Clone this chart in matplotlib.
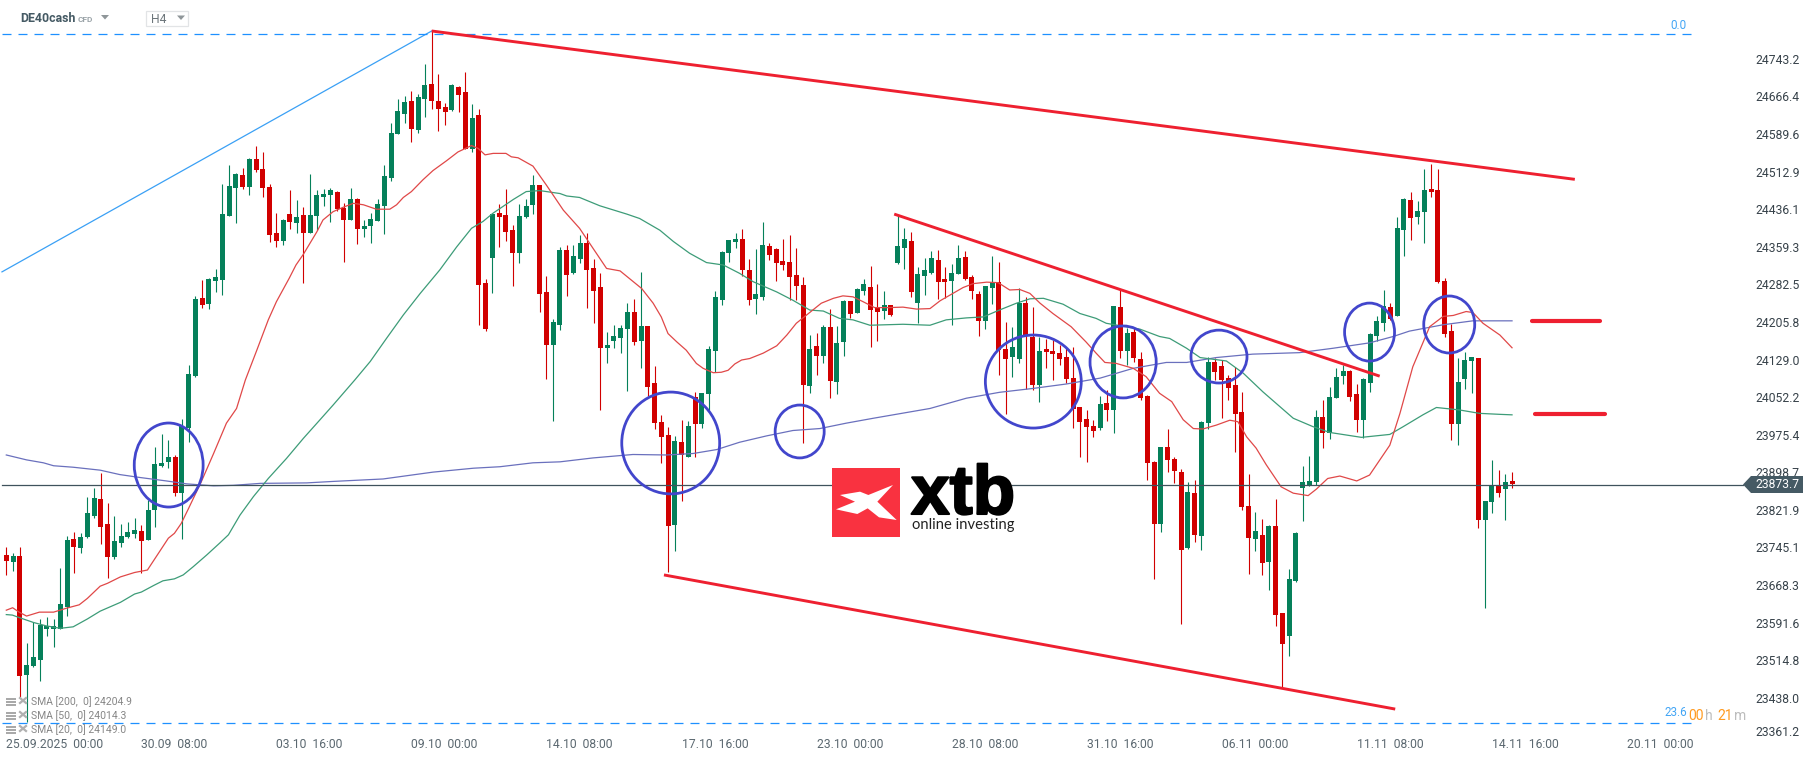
# DE40cash H4 chart
import numpy as np
import matplotlib
matplotlib.use("Agg")
import matplotlib.pyplot as plt
import matplotlib.patheffects as pe
from matplotlib.patches import Ellipse, Polygon, Rectangle
from matplotlib.transforms import Affine2D, ScaledTranslation

W, H = 1815, 761

opens = [23730,23715,23728,23485,23503,23515,23579,23579,23579,23624,
 23762,23744,23767,23809,23844,23793,23726,23754,23767,23773,
 23779,23760,23822,23911,23920,23930,23856,23990,24095,24255,
 24242,24289,24291,24422,24479,24506,24481,24539,24518,24481,
 24387,24371,24426,24408,24424,24387,24422,24461,24465,24471,
 24439,24414,24457,24396,24402,24412,24443,24500,24590,24631,
 24657,24598,24661,24692,24657,24645,24639,24686,24675,24559,
 24628,24285,24336,24428,24424,24393,24346,24420,24445,24485,
 24267,24159,24199,24353,24306,24334,24367,24316,24277,24152,
 24167,24173,24191,24226,24167,24197,24081,24001,23975,23791,
 23960,23930,24052,23997,24058,24146,24250,24346,24369,24375,
 24312,24252,24257,24361,24355,24330,24328,24302,24281,24075,
 24157,24136,24195,24083,24165,24248,24224,24269,24277,24234,
 24228,24240,24326,24357,24371,24244,24299,24306,24332,24293,
 24289,24304,24338,24297,24263,24208,24275,24287,24150,24134,
 24130,24244,24175,24077,24151,24146,24142,24134,24091,24032,
 24008,23993,23989,24040,24026,24236,24146,24185,24130,24055,
 23920,23793,23950,23926,23899,23744,23856,23768,23999,24124,
 24116,24091,24077,24022,23830,23762,23771,23715,23789,23611,
 23564,23677,23867,23873,23879,24012,23979,24050,24095,24106,
 24059,24006,24081,24177,24204,24236,24218,24394,24455,24420,
 24430,24477,24475,24289,24187,23997,24089,24126,24132,23801,
 23838,23873,23864,23881]
closes = [23718,23728,23483,23505,23521,23587,23585,23585,23630,23760,
 23746,23767,23816,23846,23787,23726,23758,23769,23777,23781,
 23758,23822,23916,23918,23930,23856,23993,24099,24253,24240,
 24293,24298,24426,24483,24508,24481,24539,24516,24479,24383,
 24371,24414,24410,24420,24387,24424,24465,24467,24475,24436,
 24414,24457,24396,24402,24416,24447,24504,24592,24637,24655,
 24600,24665,24690,24657,24641,24635,24690,24669,24559,24622,
 24281,24191,24426,24420,24389,24346,24422,24442,24485,24263,
 24159,24206,24353,24302,24340,24367,24312,24269,24152,24159,
 24177,24193,24226,24165,24197,24073,23999,23971,23789,23962,
 23934,23993,23997,24061,24150,24257,24349,24373,24375,24312,
 24250,24263,24363,24342,24326,24322,24297,24279,24077,24150,
 24136,24195,24085,24163,24248,24222,24273,24283,24230,24226,
 24240,24220,24361,24375,24267,24304,24312,24336,24287,24287,
 24306,24336,24293,24269,24208,24279,24287,24148,24130,24154,
 24244,24177,24077,24146,24144,24140,24130,24089,24028,24001,
 23991,23983,24038,24026,24238,24146,24183,24132,24050,23918,
 23793,23950,23924,23901,23740,23858,23771,24001,24124,24104,
 24087,24071,24018,23828,23764,23779,23713,23789,23607,23548,
 23681,23775,23879,23881,24012,23979,24052,24093,24106,24052,
 24006,24089,24181,24208,24238,24212,24398,24457,24418,24432,
 24475,24471,24287,24181,23997,24083,24128,24134,23801,23840,
 23873,23856,23879,23875]
highs = [23746,23734,23746,23549,23593,23599,23603,23599,23703,23769,
 23777,23775,23848,23867,23897,23835,23809,23793,23797,23805,
 23791,23842,23950,23977,23965,23934,24008,24118,24259,24291,
 24296,24314,24488,24526,24510,24520,24541,24565,24553,24488,
 24428,24415,24475,24455,24441,24508,24475,24477,24479,24473,
 24449,24479,24458,24414,24428,24457,24526,24612,24661,24667,
 24677,24671,24733,24799,24712,24653,24692,24688,24716,24651,
 24641,24293,24427,24447,24477,24404,24447,24457,24506,24486,
 24299,24212,24359,24363,24363,24383,24387,24334,24306,24185,
 24199,24199,24244,24253,24308,24198,24116,24016,23991,23973,
 24005,24003,24063,24061,24157,24269,24351,24373,24387,24395,
 24334,24355,24410,24367,24356,24375,24383,24357,24297,24179,
 24183,24199,24232,24197,24250,24249,24275,24293,24320,24283,
 24269,24241,24424,24397,24389,24318,24336,24351,24353,24318,
 24324,24363,24351,24302,24269,24280,24340,24328,24205,24195,
 24275,24256,24236,24175,24171,24169,24159,24155,24155,24033,
 24026,24006,24055,24067,24239,24271,24193,24193,24144,24056,
 23921,23951,23988,23930,23905,23879,23883,24003,24134,24132,
 24128,24097,24114,24063,23895,23818,23803,23790,23844,23612,
 23701,23777,23912,23932,24026,24046,24073,24112,24118,24107,
 24079,24091,24183,24218,24271,24244,24420,24458,24471,24453,
 24518,24528,24518,24296,24202,24132,24144,24135,24133,23841,
 23924,23903,23895,23899]
lows = [23689,23697,23440,23389,23500,23472,23564,23542,23578,23605,
 23693,23734,23765,23805,23752,23683,23722,23746,23765,23765,
 23693,23760,23787,23910,23907,23850,23762,23961,24093,24234,
 24232,24267,24261,24422,24408,24477,24465,24512,24461,24369,
 24359,24363,24396,24387,24285,24387,24394,24443,24410,24432,
 24328,24414,24365,24379,24367,24412,24385,24494,24590,24612,
 24573,24592,24624,24641,24596,24608,24637,24635,24559,24553,
 24199,24187,24265,24359,24371,24279,24326,24418,24426,24226,
 24089,24003,24189,24259,24304,24326,24234,24203,24026,24122,
 24152,24142,24065,24159,24112,24054,23987,23918,23695,23738,
 23840,23929,23930,23989,24026,24103,24240,24328,24357,24299,
 24240,24222,24250,24332,24289,24312,24250,24250,23958,24061,
 24097,24122,24050,24058,24136,24214,24223,24261,24154,24167,
 24212,24218,24325,24314,24257,24203,24261,24304,24253,24255,
 24199,24303,24292,24253,24177,24191,24242,24097,24018,24093,
 24122,24069,24067,24042,24112,24087,24118,24081,23989,23930,
 23920,23971,23985,24003,23979,24132,24118,24124,24046,23883,
 23681,23777,23899,23877,23589,23742,23756,23740,23987,24087,
 24010,24046,23940,23822,23691,23738,23689,23658,23585,23461,
 23523,23675,23799,23871,23873,23948,23967,24050,24079,24044,
 23981,23969,24063,24167,24187,24210,24218,24340,24373,24406,
 24367,24461,24286,24175,23965,23954,24069,24061,23785,23621,
 23815,23848,23801,23867]

# moving averages: (candle number, value) pairs
sma20_x = [0,.94,1.9,3,4.9,7,8.9,10.8,12,13.9,15,16.9,19,20.9,21.9,24,24.9,25.9,27,28.9,30.7,32.6,34.1,35.4,
 37.1,38.8,40,41.9,42.9,44,46,46.9,48.4,49.9,51.4,52.9,54.8,56.8,57.8,58.8,60,61.7,63.2,65.2,66.9,68.9,69.9,70.9,
 72.1,74,74.8,75.8,78,80,82.5,84.9,86.9,88.9,90.9,92.6,94.1,95.8,97,98,99.3,100.7,102.2,103.2,104.7,105.9,106.9,
 107.9,108.9,110.1,112.1,114.1,115.6,117,118.8,120.7,122.5,123.9,125.4,126.9,128.6,130.6,132.8,134.8,136.8,138.3,
 140.2,141.7,143.2,145.2,146.9,148.6,150.1,151.6,153.1,155,157.7,159.9,161.4,162.7,164.4,166.9,168.8,170.8,172.6,
 174.3,175.8,177.2,179.2,181.2,182.4,183.7,185.1,186.6,188.8,190.6,192.8,194,195.7,197.5,200,201.9,204.9,206.4,
 208.3,210.8,212.8,214.3,216.2,217.2,218.7,221.2,223]
sma20_y = [23617,23622,23613,23605,23613,23613,23621,23628,23641,23666,23672,23685,23694,23699,23720,23764,23774,23794,23825,23880,23937,23999,24029,24087,
 24148,24210,24247,24295,24322,24344,24390,24414,24431,24440,24448,24445,24436,24436,24445,24460,24472,24496,24515,24535,24553,24566,24560,24547,
 24550,24550,24543,24541,24524,24485,24434,24397,24356,24315,24310,24291,24274,24244,24216,24182,24165,24148,24121,24111,24102,24103,24107,
 24120,24128,24131,24142,24157,24179,24203,24223,24244,24254,24259,24257,24247,24235,24235,24236,24232,24233,24249,
 24264,24276,24284,24287,24286,24271,24272,24264,24244,24223,24196,24165,24142,24123,24121,24111,24094,24060,24043,
 24006,23988,23987,23995,24005,24002,23971,23948,23914,23869,23856,23851,23864,23886,23891,23881,23893,23954,24019,
 24114,24196,24217,24219,24227,24225,24203,24179,24153]
sma50_x = [0,.9,1.9,4,5.9,8,9.9,12,13.9,16.9,19,20,21.9,23.2,24.9,26.2,27.7,29.7,31.6,32.9,34.6,36.6,38.8,41.5,44,46.4,48.4,51.6,
 53.9,56.3,58.8,61.3,64.2,66.7,68.9,70.6,72.1,75.1,77,79,82,83,84.9,87.9,91.9,93.8,96.8,98.8,101.2,103.7,106.2,108.6,110.6,
 114.1,116.5,119,121,123.4,125.4,127.9,132.8,136.8,139.2,142.2,144.7,146.9,149.6,151.6,153.6,156.5,159,161.4,162.9,167.9,
 170.8,172.3,174.8,176.8,180.7,183.2,186.1,190.6,193.5,196,200.7,204.9,206.9,209.8,211.8,215.2,218.2,221.2,223]
sma50_y = [23608,23607,23602,23592,23585,23580,23583,23599,23615,23633,23650,23654,23668,23677,23681,23689,23706,23730,23754,23771,23811,23849,23886,23927,23968,24005,24036,24087,
 24125,24172,24220,24264,24312,24359,24397,24411,24428,24456,24472,24474,24468,24463,24460,24443,24426,24417,24393,24370,24346,24327,24322,24305,24288,
 24267,24250,24230,24228,24213,24210,24199,24201,24199,24210,24214,24216,24229,24244,24253,24254,24242,24223,24213,24203,24191,
 24176,24172,24152,24133,24126,24101,24063,24009,23992,23980,23970,23976,23992,24016,24031,24026,24019,24017,24016]
sma200_x = [0,3,5.5,7,9.9,13.9,16.8,19.8,23.7,26.7,30.7,33.6,37.6,44.5,48.4,55.8,63.2,69.2,73.1,78,82,86.9,92.8,97.8,101.7,105.2,
 108.6,112.6,116.5,120.5,124.4,128.4,136.8,142.2,147.1,152.1,157,162,166.9,171.8,174.8,179.2,184.6,191.5,196.5,201.9,205.4,207.8,212.8,217.2,221.2,223]
sma200_y = [23934,23924,23918,23912,23909,23903,23894,23888,23881,23875,23871,23872,23876,23877,23880,23885,23899,23907,23910,23918,23920,23928,23935,23934,23937,23945,
 23960,23973,23984,23988,23999,24009,24029,24050,24062,24070,24079,24091,24111,24123,24123,24133,24140,24143,24152,24163,24176,24187,24200,24208,24208,24208]

# hand drawn trend lines, (candle, price)
top_line_x, top_line_y = [63, 232.3], [24800, 24497]
low_line_x, low_line_y = [97.4, 205.7], [23689, 23415]
mid_line_x, mid_line_y = [131.5, 203.4], [24426, 24095]
lev1_x, lev1_y = [226, 236], [24207.6, 24207.6]
lev2_x, lev2_y = [226.4, 236.8], [24017.7, 24017.7]
fibo_x, fibo_y = [-0.64, 63], [24308, 24800]
fibo_top, fibo_low = 24794, 23387
fibo_end = 249.7
last_price = 23873.7
last_end = 257.2

# blue circles: centre candle, centre price, width, height
circle_x = [24.05, 98.4, 117.5, 152.1, 165.4, 179.6, 201.9, 213.7]
circle_y = [23913.5, 23958.5, 23982, 24084, 24124, 24135, 24185, 24200.5]
circle_w = [10.2, 14.5, 7.26, 14.2, 9.8, 8.3, 7.4, 7.55]
circle_h = [171.6, 208, 108, 190, 147, 108, 118.5, 116.4]

ytick_vals = [24743.2,24666.4,24589.6,24512.9,24436.1,24359.3,24282.5,24205.8,24129.0,24052.2,
              23975.4,23898.7,23821.9,23745.1,23668.3,23591.6,23514.8,23438.0,23361.2]
xtick_idx = [0,20,40,60,80,100,120,140,160,180,200,220,240]
xtick_labels = ["25.09.2025  00:00","30.09  08:00","03.10  16:00","09.10  00:00","14.10  08:00",
                "17.10  16:00","23.10  00:00","28.10  08:00","31.10  16:00","06.11  00:00",
                "11.11  08:00","14.11  16:00","20.11  00:00"]
legend_labels = ["SMA [200,  0] 24204.9", "SMA [50,  0] 24014.3", "SMA [20,  0] 24149.0"]

RED = "#d10000"
GREEN = "#05805a"
TREND = "#ee2030"
CIRCLE = "#4246cc"
BLUE = "#2196f3"
DARK = "#455a64"

plt.rcParams['font.family'] = ['Roboto', 'DejaVu Sans']

fig = plt.figure(figsize=(W / 100, H / 100), dpi=100, facecolor="white")
ax = fig.add_axes([0, 0, 1, 1])
ax.set_xlim(-0.933, 267.87)
ax.set_ylim(24863.3 - 2.0425 * H, 24863.3)
for s in ax.spines.values():
    s.set_visible(False)

# pixel coordinates from the top left, for the chart furniture
pix = Affine2D().scale(1 / W, -1 / H).translate(0, 1) + fig.transFigure

# candles
o, c, hi, lo = map(np.array, (opens, closes, highs, lows))
idx = np.arange(len(o))
up = c >= o
ax.vlines(idx[up], lo[up], hi[up], color=GREEN, lw=0.8, zorder=3)
ax.vlines(idx[~up], lo[~up], hi[~up], color=RED, lw=0.8, zorder=3)
ax.bar(idx[up], (c - o)[up], bottom=o[up], width=0.74, color=GREEN, zorder=4)
ax.bar(idx[~up], (o - c)[~up], bottom=c[~up], width=0.74, color=RED, zorder=4)

# averages
ax.plot(sma200_x, sma200_y, color="#6a70bd", lw=0.9, zorder=5)
ax.plot(sma50_x, sma50_y, color="#3d9c78", lw=0.9, zorder=5)
ax.plot(sma20_x, sma20_y, color="#e04848", lw=0.9, zorder=5)

# fibo and current price
ax.plot(fibo_x, fibo_y, color="#3aa0f5", lw=0.9, zorder=2)
for lev in (fibo_top, fibo_low):
    ax.plot([-0.64, fibo_end], [lev, lev], color="#1e90ff", lw=0.9,
            dashes=(7.2, 5.6), zorder=2)
ax.plot([-0.64, last_end], [last_price, last_price], color="#3f525c", lw=0.9, zorder=6)

# drawings
for xs, ys, lw in [(top_line_x, top_line_y, 2.1), (low_line_x, low_line_y, 2.1),
                   (mid_line_x, mid_line_y, 2.1), (lev1_x, lev1_y, 3.0), (lev2_x, lev2_y, 3.0)]:
    ax.plot(xs, ys, color=TREND, lw=lw, solid_capstyle="round" if lw > 2.5 else "butt", zorder=7)
for cx, cy, w, h in zip(circle_x, circle_y, circle_w, circle_h):
    ax.add_patch(Ellipse((cx, cy), w, h, fill=False, ec=CIRCLE, lw=2.0, zorder=8))

# axis labels, drawn inside the figure
ax.yaxis.tick_right()
ax.set_yticks(ytick_vals, [f"{v:.1f}" for v in ytick_vals])
ax.tick_params(axis="y", length=0, pad=-(W - 1755) * 0.72, labelsize=8.7, labelcolor="#37424a")
ax.set_xticks(xtick_idx, xtick_labels)
ax.tick_params(axis="x", length=0, pad=-(H - 738) * 0.72, labelsize=8.7, labelcolor="#5b6870")
for t in ax.get_xticklabels():
    t.set_ha("left")
last_lab = ax.get_yticklabels()[-1]
last_lab.set_transform(last_lab.get_transform() + ScaledTranslation(0, 4 / 100, fig.dpi_scale_trans))

# current price tag
ax.add_patch(Polygon([(1743, 484.5), (1751, 476), (1803, 476), (1803, 493), (1751, 493)],
                     closed=True, fc=DARK, ec="none", transform=pix, zorder=9))
ax.text(1755, 485, "23873.7", color="white", fontsize=8.7, va="center", transform=pix, zorder=10)

# header
ax.text(20, 18.7, "DE40cash", color=DARK, fontsize=8.9, fontweight="bold", va="center", transform=pix)
ax.text(78, 19.3, "CFD", color="#9aa3a8", fontsize=6.0, fontweight="bold", va="center", transform=pix)
ax.add_patch(Polygon([(101, 15), (109, 15), (105, 19.5)], fc="#8f9699", ec="none", transform=pix))
ax.add_patch(Rectangle((146, 10.5), 42, 15, fc="white", ec="#e2e4e6", lw=0.9, transform=pix))
ax.text(151, 19.5, "H4", color="#6d767b", fontsize=8.7, va="center", transform=pix)
ax.add_patch(Polygon([(177, 15.5), (185, 15.5), (181, 20)], fc="#8f9699", ec="none", transform=pix))

# indicator legend
for k, lab in enumerate(legend_labels):
    yy = 701.5 + 14 * k
    for dy in (-4, -1, 2):
        ax.add_patch(Rectangle((6, yy + dy), 10, 2, fc="#a9a9a9", ec="none", transform=pix, zorder=11))
    ax.plot([20, 26], [yy - 3.5, yy + 1.5], color="#b0b0b0", lw=1.6, transform=pix, zorder=11)
    ax.plot([20, 26], [yy + 1.5, yy - 3.5], color="#b0b0b0", lw=1.6, transform=pix, zorder=11)
    ax.text(31, yy, lab, color="#868686", fontsize=7.5, va="center", transform=pix, zorder=11)

# fibo labels and countdown
ax.text(1687, 25.5, "0.0", color="#42a5f5", fontsize=8.4, ha="right", va="center", transform=pix)
ax.text(1687, 713, "23.6", color="#42a5f5", fontsize=8.4, ha="right", va="center", transform=pix)
for xx, s, col in [(1688.7, "00", "#ff9a1f"), (1705, "h", "#bdbdbd"), (1717.7, "21", "#ff9a1f"), (1734, "m", "#bdbdbd")]:
    ax.text(xx, 716, s, color=col, fontsize=10, va="center", transform=pix, zorder=11)

# logo
ax.add_patch(Rectangle((832, 468), 180, 69, fc="white", ec="none", transform=pix, zorder=12))
ax.add_patch(Rectangle((832, 468), 68.5, 69, fc="#f93240", ec="none", transform=pix, zorder=13))
xmark_z = [(120,165),(180,155),(205,165),(279,135),(232,185),(290,240),(237,232),(203,205),(172,222),(108,208),(165,185)]
ax.add_patch(Polygon([(800 + a / 3, 440 + b / 3) for a, b in xmark_z], fc="white", ec="none", transform=pix, zorder=14))
ax.text(911, 514, "xtb", color="black", family="Liberation Sans", fontweight="bold", fontsize=50,
        va="baseline", transform=pix, zorder=14,
        path_effects=[pe.withStroke(linewidth=1.5, foreground="black")])
ax.text(912, 525.5, "online investing", color="#222222", family="Lato", fontsize=10.6,
        va="center", transform=pix, zorder=14)

fig.savefig("out.png", dpi=100, facecolor="white")
